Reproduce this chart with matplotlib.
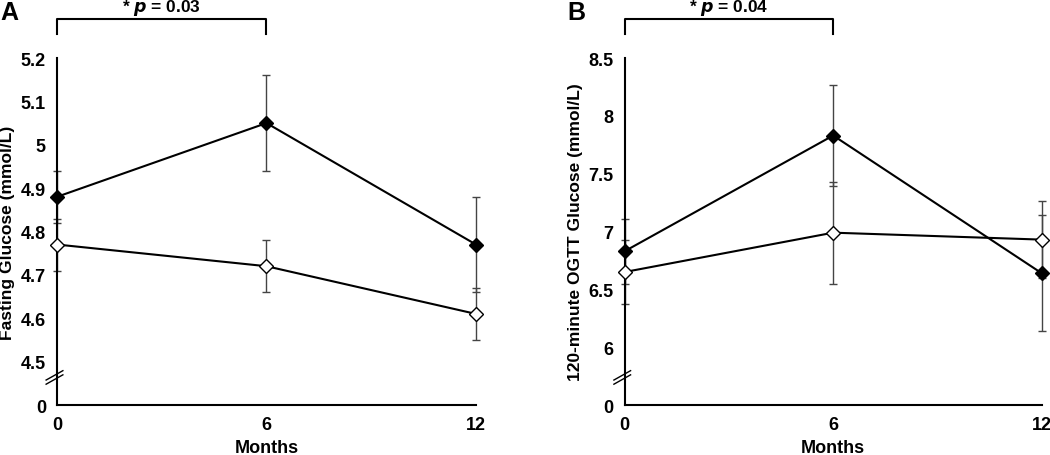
import matplotlib
matplotlib.use("Agg")
import matplotlib.pyplot as plt

plt.rcParams['font.family'] = ['Liberation Sans', 'DejaVu Sans']
plt.rcParams['font.weight'] = 'bold'

months = [0, 6, 12]

# panel A: fasting glucose (mmol/L)
fast_black = [4.88, 5.05, 4.77]
fast_black_err = [0.06, 0.11, 0.11]
fast_white = [4.77, 4.72, 4.61]
fast_white_err = [0.06, 0.06, 0.06]
fast_ticks = [4.4, 4.5, 4.6, 4.7, 4.8, 4.9, 5.0, 5.1, 5.2]
fast_ticklabels = ['0', '4.5', '4.6', '4.7', '4.8', '4.9', '5', '5.1', '5.2']

# panel B: 120-minute OGTT glucose (mmol/L)
ogtt_black = [6.83, 7.83, 6.64]
ogtt_black_err = [0.28, 0.44, 0.50]
ogtt_white = [6.65, 6.99, 6.93]
ogtt_white_err = [0.28, 0.44, 0.33]
ogtt_ticks = [5.5, 6.0, 6.5, 7.0, 7.5, 8.0, 8.5]
ogtt_ticklabels = ['0', '6', '6.5', '7', '7.5', '8', '8.5']

fig = plt.figure(figsize=(10.5, 4.56), dpi=100)
axA = fig.add_axes([0.0543, 0.1096, 0.399, 0.761])
axB = fig.add_axes([0.595, 0.1096, 0.397, 0.761])


def draw_panel(ax, black, berr, white, werr, ticks, ticklabels, ylabel, letter, ptext):
    for vals, err in ((black, berr), (white, werr)):
        _, caps, bars = ax.errorbar(months, vals, yerr=err, fmt='none', ecolor='#444444',
                                    elinewidth=1, capsize=3, capthick=1, zorder=2)
        for c in caps:
            c.set_clip_on(False)
        for b in bars:
            b.set_clip_on(False)
    ax.plot(months, white, color='black', lw=1.5, marker='D', ms=7,
            mfc='white', mec='black', mew=1, zorder=3, clip_on=False)
    ax.plot(months, black, color='black', lw=1.5, marker='D', ms=7,
            mfc='black', mec='black', zorder=4, clip_on=False)

    ax.set_xlim(0, 12)
    ax.set_ylim(ticks[0], ticks[-1])
    ax.set_xticks(months)
    ax.set_yticks(ticks)
    ax.set_yticklabels(ticklabels)
    ax.tick_params(length=0, labelsize=13, pad=8)
    for lab in ax.get_xticklabels() + ax.get_yticklabels():
        lab.set_fontweight('bold')
    for s in ['top', 'right']:
        ax.spines[s].set_visible(False)
    ax.spines['left'].set_linewidth(1.5)
    ax.spines['bottom'].set_linewidth(1.5)
    ax.set_xlabel('Months', fontsize=13, fontweight='bold', labelpad=4)
    ax.set_ylabel(ylabel, fontsize=12.5, fontweight='bold', labelpad=4)

    # axis break marks
    tr = ax.transAxes
    for dy in (0.0, 0.012):
        ax.plot([-0.026, 0.014], [0.06 + dy, 0.087 + dy], color='black',
                lw=1, transform=tr, clip_on=False)

    # significance bracket
    ax.plot([0, 0, 6, 6], [1.069, 1.112, 1.112, 1.069], color='black', lw=1.5,
            transform=ax.get_xaxis_transform(), clip_on=False)
    bx = ax.transData.transform((3, 0))[0]
    fx = fig.transFigure.inverted().transform((bx, 0))[0]
    fig.text(fx, 0.982, ptext, ha='center', va='center', fontsize=12.5,
             fontweight='bold')
    x0 = ax.get_position().x0
    fig.text(x0 - 0.0543, 0.972, letter, ha='left', va='center', fontsize=18,
             fontweight='bold')


draw_panel(axA, fast_black, fast_black_err, fast_white, fast_white_err,
           fast_ticks, fast_ticklabels, 'Fasting Glucose (mmol/L)', 'A',
           r'* $\bf{\it{p}}$ = 0.03')
draw_panel(axB, ogtt_black, ogtt_black_err, ogtt_white, ogtt_white_err,
           ogtt_ticks, ogtt_ticklabels, '120-minute OGTT Glucose (mmol/L)', 'B',
           r'* $\bf{\it{p}}$ = 0.04')

fig.savefig('out.png', dpi=100)
